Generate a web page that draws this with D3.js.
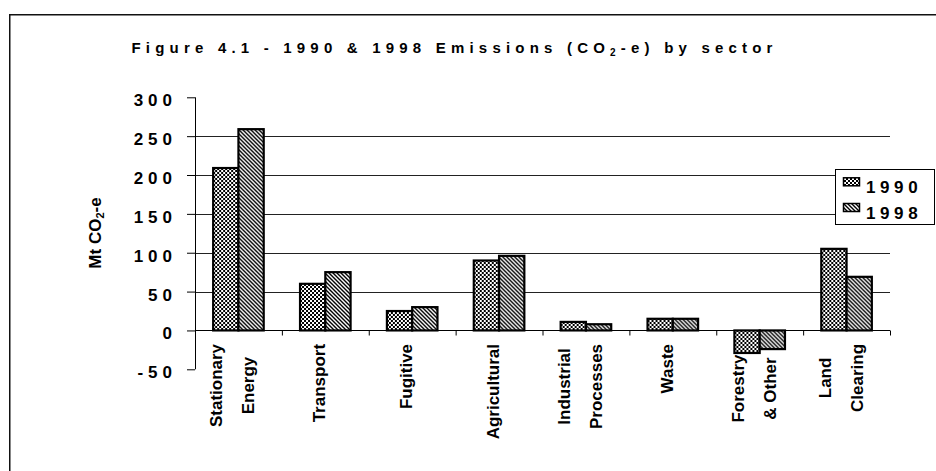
<!DOCTYPE html>
<html>
<head>
<meta charset="utf-8">
<script src="https://cdn.jsdelivr.net/npm/d3@7"></script>
<style>
  html, body { margin: 0; padding: 0; background: #fff; }
  svg { display: block; }
  text { font-family: Arial, "Liberation Sans", Helvetica, sans-serif; font-weight: bold; fill: #000; }
</style>
</head>
<body>
<svg id="chart" width="936" height="471"></svg>
<script>
// ---- data ----
const categories = [
  ["Stationary", "Energy"],
  ["Transport"],
  ["Fugitive"],
  ["Agricultural"],
  ["Industrial", "Processes"],
  ["Waste"],
  ["Forestry", "& Other"],
  ["Land", "Clearing"]
];
const seriesNames = ["1990", "1998"];
const values1990 = [209, 60, 25, 90, 11, 15, -29, 105];
const values1998 = [259, 75, 30, 96, 8, 15, -24, 69];
const yTicks = [-50, 0, 50, 100, 150, 200, 250, 300];
const gridValues = [50, 100, 150, 200, 250];

const titleMain = "Figure 4.1 - 1990 & 1998 Emissions (CO";
const titleSub = "2";
const titleEnd = "-e) by sector";
const yTitleMain = "Mt CO";
const yTitleSub = "2";
const yTitleEnd = "-e";

// ---- setup ----
const svg = d3.select("#chart");
const catKeys = categories.map((c, i) => String(i));
const series = [values1990, values1998];

const plotLeft = 195, plotRight = 890, plotTop = 97.3, plotBottom = 369.3;

const y = d3.scaleLinear().domain([-50, 300]).range([plotBottom, plotTop]);
const x0 = d3.scaleBand().domain(catKeys).range([plotLeft, plotRight])
  .paddingInner(0.418).paddingOuter(0.209);
const x1 = d3.scaleBand().domain(seriesNames).range([0, x0.bandwidth()]);

// patterns
const defs = svg.append("defs");
const p1 = defs.append("pattern").attr("id", "pat1990")
  .attr("patternUnits", "userSpaceOnUse").attr("width", 4).attr("height", 4);
p1.append("rect").attr("width", 4).attr("height", 4).attr("fill", "#fff");
p1.append("rect").attr("x", 0).attr("y", 0).attr("width", 2).attr("height", 2).attr("fill", "#000");
p1.append("rect").attr("x", 2).attr("y", 2).attr("width", 2).attr("height", 2).attr("fill", "#000");

const p2 = defs.append("pattern").attr("id", "pat1998")
  .attr("patternUnits", "userSpaceOnUse").attr("width", 4).attr("height", 4);
p2.append("rect").attr("width", 4).attr("height", 4).attr("fill", "#fff");
p2.append("path").attr("d", "M-1,-1 L5,5 M-1,3 L1,5 M3,-1 L5,1")
  .attr("stroke", "#000").attr("stroke-width", 1.4);

const fills = { "1990": "url(#pat1990)", "1998": "url(#pat1998)" };

// outer frame (cropped at right and bottom)
svg.append("rect")
  .attr("x", 9.75).attr("y", 14.75).attr("width", 960).attr("height", 500)
  .attr("fill", "none").attr("stroke", "#111").attr("stroke-width", 1.5);

// title
const title = svg.append("text")
  .attr("x", 131.5).attr("y", 53)
  .attr("font-size", 15).attr("letter-spacing", 5.2);
title.append("tspan").text(titleMain);
title.append("tspan").attr("font-size", 10).attr("dy", 3).text(titleSub);
title.append("tspan").attr("dy", -3).text(titleEnd);

// gridlines
svg.append("g").selectAll("line").data(gridValues).join("line")
  .attr("x1", plotLeft).attr("x2", plotRight)
  .attr("y1", d => Math.round(y(d)) + 0.5).attr("y2", d => Math.round(y(d)) + 0.5)
  .attr("stroke", "#222").attr("stroke-width", 1);

// bars
const rows = catKeys.map((k, i) => ({ key: k, vals: seriesNames.map((s, j) => ({ s, v: series[j][i] })) }));
const groups = svg.append("g").selectAll("g").data(rows).join("g")
  .attr("transform", d => `translate(${x0(d.key)},0)`);
groups.selectAll("rect").data(d => d.vals).join("rect")
  .attr("x", d => x1(d.s))
  .attr("width", x1.bandwidth())
  .attr("y", d => y(Math.max(0, d.v)))
  .attr("height", d => Math.abs(y(d.v) - y(0)))
  .attr("fill", d => fills[d.s])
  .attr("stroke", "#000").attr("stroke-width", 2.2);

// y axis
const yAxis = d3.axisLeft(y).tickValues(yTicks).tickSize(8).tickPadding(10)
  .tickFormat(d => String(d));
const yg = svg.append("g").attr("transform", `translate(${plotLeft},0)`).call(yAxis);
yg.select(".domain").remove();
yg.selectAll(".tick line").attr("stroke", "#000");
yg.selectAll(".tick text")
  .attr("font-size", 17).attr("font-family", "Arial, 'Liberation Sans', sans-serif")
  .attr("font-weight", "bold").attr("letter-spacing", 5).attr("dy", "0.5em").attr("fill", "#000");
svg.append("line")
  .attr("x1", plotLeft + 0.5).attr("x2", plotLeft + 0.5)
  .attr("y1", plotTop).attr("y2", plotBottom)
  .attr("stroke", "#000").attr("stroke-width", 1);

// zero line with category ticks
const y0 = Math.round(y(0)) + 0.5;
svg.append("line")
  .attr("x1", plotLeft).attr("x2", plotRight)
  .attr("y1", y0).attr("y2", y0)
  .attr("stroke", "#000").attr("stroke-width", 1);
const step = x0.step();
svg.append("g").selectAll("line").data(d3.range(catKeys.length + 1)).join("line")
  .attr("x1", i => plotLeft + i * step + 0.5).attr("x2", i => plotLeft + i * step + 0.5)
  .attr("y1", y0).attr("y2", y0 + 5)
  .attr("stroke", "#000").attr("stroke-width", 1);

// category labels (rotated, wrapped)
const lineGap = 32;
rows.forEach((r, i) => {
  const lines = categories[i];
  const cx = x0(r.key) + x0.bandwidth() / 2;
  const minVal = d3.min(r.vals, d => d.v);
  const top = Math.max(y(0) + 13.5, y(Math.min(0, minVal)) + 1.5);
  const n = lines.length;
  const texts = lines.map((ln, j) => {
    const off = n === 1 ? 0 : (j === 0 ? -16 : 16);
    return svg.append("text")
      .attr("font-size", 17)
      .attr("text-anchor", "middle")
      .attr("data-off", off)
      .text(ln);
  });
  const maxLen = d3.max(texts, t => t.node().getComputedTextLength());
  const cy = top + maxLen / 2;
  texts.forEach(t => {
    const bx = cx + (+t.attr("data-off"));
    t.attr("transform", `translate(${bx},${cy}) rotate(-90)`);
  });
});

// y axis title
const yt = svg.append("text")
  .attr("transform", "translate(101,233) rotate(-90)")
  .attr("text-anchor", "middle").attr("font-size", 17);
yt.append("tspan").text(yTitleMain);
yt.append("tspan").attr("font-size", 11).attr("dy", 3).text(yTitleSub);
yt.append("tspan").attr("dy", -3).text(yTitleEnd);

// legend
const lg = svg.append("g");
lg.append("rect")
  .attr("x", 835.5).attr("y", 169.5).attr("width", 99).attr("height", 55)
  .attr("fill", "#fff").attr("stroke", "#000").attr("stroke-width", 1);
seriesNames.forEach((s, i) => {
  const base = 193.3 + i * 25.7;
  lg.append("rect")
    .attr("x", 843.5).attr("y", base - 15.5).attr("width", 16).attr("height", 8)
    .attr("fill", fills[s]).attr("stroke", "#000").attr("stroke-width", 1.5);
  lg.append("text")
    .attr("x", 866).attr("y", base)
    .attr("font-size", 17).attr("letter-spacing", 4.6)
    .text(s);
});
</script>
</body>
</html>
